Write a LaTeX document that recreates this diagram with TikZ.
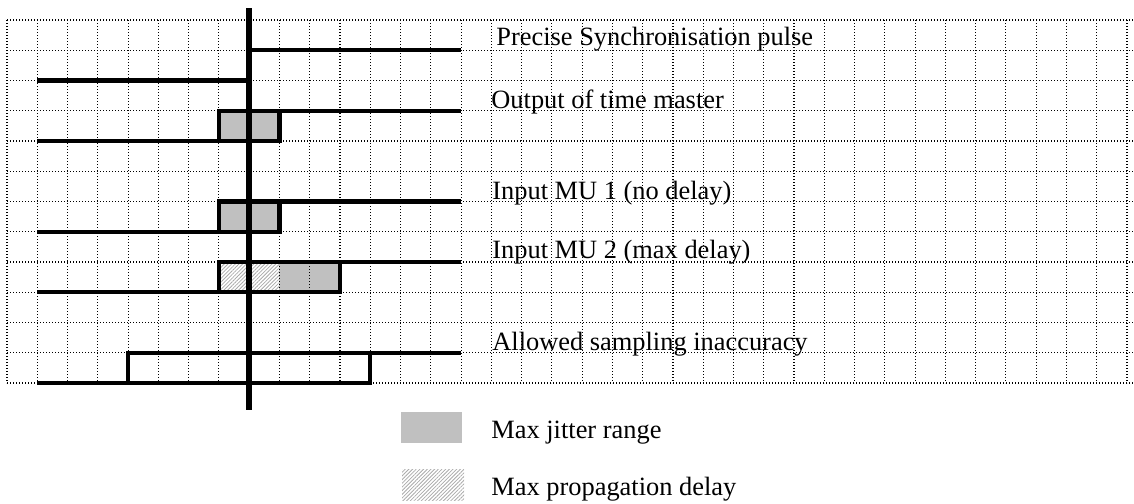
\documentclass[tikz,border=0pt]{standalone}
\usepackage{fontspec}
\setmainfont{Liberation Serif}
\usetikzlibrary{patterns.meta}
\definecolor{jitter}{RGB}{192,192,192}
\definecolor{hatchgray}{RGB}{170,170,170}
\begin{document}
\begin{tikzpicture}[x=0.5pt,y=-0.5pt,
  declare function={cx(\k)=7+30.27*\k; ry(\j)=20+30.25*\j;},
  gridline/.style={line width=0.55pt,dash pattern=on 0.55pt off 0.95pt,black},
  signal/.style={line width=2.1pt,line join=miter},
  syncline/.style={line width=3.3pt},
  jitterfill/.style={fill=jitter},
  delayfill/.style={pattern={Lines[angle=45,distance=1.3pt,line width=0.4pt]},pattern color=hatchgray},
  label/.style={anchor=base west,inner sep=0pt,font=\fontsize{13.2pt}{15pt}\selectfont}]
\useasboundingbox (0,0) rectangle (1134,503);

% shaded ranges (beneath the grid)
\fill[jitterfill] ({cx(7)},{ry(3)}) rectangle ({cx(9)},{ry(4)});
\fill[jitterfill] ({cx(7)},{ry(6)}) rectangle ({cx(9)},{ry(7)});
\fill[delayfill] ({cx(7)},{ry(8)}) rectangle ({cx(9)},{ry(9)});
\fill[jitterfill] ({cx(9)},{ry(8)}) rectangle ({cx(11)},{ry(9)});

% dotted grid
\foreach \k in {0,...,37}
  \draw[gridline] ({cx(\k)},{ry(0)}) -- ({cx(\k)},{ry(12)});
\foreach \j in {0,...,12}
  \draw[gridline] (7,{ry(\j)}) -- (1133,{ry(\j)});

% precise synchronisation pulse
\draw[signal] ({cx(1)},{ry(2)}) -- ({cx(8)},{ry(2)}) -- ({cx(8)},{ry(1)}) -- ({cx(15)},{ry(1)});

% output of time master
\draw[signal] ({cx(1)},{ry(4)}) -- ({cx(9)},{ry(4)}) -- ({cx(9)},{ry(3)});
\draw[signal] ({cx(7)},{ry(4)}) -- ({cx(7)},{ry(3)}) -- ({cx(15)},{ry(3)});

% input MU 1
\draw[signal] ({cx(1)},{ry(7)}) -- ({cx(9)},{ry(7)}) -- ({cx(9)},{ry(6)});
\draw[signal] ({cx(7)},{ry(7)}) -- ({cx(7)},{ry(6)}) -- ({cx(15)},{ry(6)});

% input MU 2
\draw[signal] ({cx(1)},{ry(9)}) -- ({cx(11)},{ry(9)}) -- ({cx(11)},{ry(8)});
\draw[signal] ({cx(7)},{ry(9)}) -- ({cx(7)},{ry(8)}) -- ({cx(15)},{ry(8)});

% allowed sampling inaccuracy
\draw[signal] ({cx(1)},{ry(12)}) -- ({cx(12)},{ry(12)}) -- ({cx(12)},{ry(11)});
\draw[signal] ({cx(4)},{ry(12)}) -- ({cx(4)},{ry(11)}) -- ({cx(15)},{ry(11)});

% sampling instant
\coordinate (synctop) at ({cx(8)},8);
\coordinate (syncbot) at ({cx(8)},410);
\draw[syncline] (synctop) -- (syncbot);

% signal names
\node[label] (lsync) at (496,46) {Precise Synchronisation pulse};
\node[label] (lmaster) at (491,108) {Output of time master};
\node[label] (lmu1) at (492,199) {Input MU 1 (no delay)};
\node[label] (lmu2) at (492,258) {Input MU 2 (max delay)};
\node[label] (lallow) at (492,350) {Allowed sampling inaccuracy};

% legend
\fill[jitterfill] (401,412) rectangle (462,443);
\fill[delayfill] (402,469) rectangle (464,500);
\node[label] (ljit) at (491,438) {Max jitter range};
\node[label] (ldel) at (491,495) {Max propagation delay};
\end{tikzpicture}
\end{document}
